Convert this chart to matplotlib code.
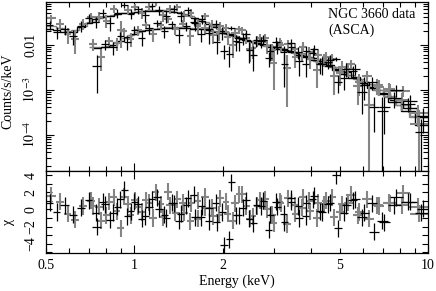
import numpy as np
import matplotlib
matplotlib.use('Agg')
import matplotlib.pyplot as plt
from matplotlib.ticker import FixedLocator, FixedFormatter, NullFormatter

plt.rcParams['font.family'] = ['Liberation Serif', 'DejaVu Serif']
plt.rcParams['mathtext.fontset'] = 'stix'
plt.rcParams['font.size'] = 10

# ---------------- data ----------------
# SIS0 (black, upper group)
edges_a = [0.5, 0.53, 0.56, 0.6, 0.64, 0.68, 0.72, 0.76, 0.8, 0.85, 0.9, 0.95, 1.0,
           1.06, 1.12, 1.18, 1.25, 1.32, 1.4, 1.48, 1.56, 1.65, 1.74, 1.84, 1.94,
           2.05, 2.16, 2.28, 2.4, 2.53, 2.67, 2.82, 2.98, 3.15, 3.33, 3.52, 3.72,
           3.94, 4.17, 4.42, 4.7, 5.0, 5.35, 5.75, 6.2, 6.7, 7.3, 8.1, 9.0, 10.0]
model_a = [0.022, 0.021, 0.019, 0.019, 0.025, 0.030, 0.036, 0.041, 0.044, 0.047,
           0.049, 0.051, 0.053, 0.055, 0.056, 0.056, 0.055, 0.053, 0.049, 0.045,
           0.039, 0.033, 0.028, 0.024, 0.020, 0.017, 0.0148, 0.0130, 0.0117, 0.0106,
           0.0097, 0.0089, 0.0081, 0.0074, 0.0067, 0.0060, 0.0053, 0.0046, 0.0039,
           0.0033, 0.0027, 0.0022, 0.0018, 0.0014, 0.0011, 0.00080, 0.00052,
           0.00033, 0.00016]
chi_a = [0.8, -0.3, 0.5, -0.6, 0.2, 1.1, -0.4, 0.9, -1.2, 0.3, 2.3, -0.2, 0.6, -0.8,
         1.2, 0.1, -1.0, 0.7, -0.5, 1.3, -0.9, 0.4, -1.4, 0.8, -0.3, -3.5, -0.7, 0.2,
         -1.1, 0.5, 1.0, -0.6, 0.3, -1.5, 0.9, 0.4, -0.8, 1.2, -0.2, 0.6, 4.0, -0.4,
         1.1, -0.9, 0.7, -1.3, 0.5, 0.9, -0.4]
rel_a = [0.28, 0.28, 0.3, 0.3, 0.28, 0.27, 0.26, 0.26, 0.25, 0.25, 0.24, 0.24,
         0.24, 0.24, 0.23, 0.23, 0.23, 0.23, 0.24, 0.24, 0.25, 0.25, 0.26, 0.27,
         0.28, 0.18, 0.3, 0.31, 0.32, 0.32, 0.33, 0.33, 0.34, 0.34, 0.35, 0.35,
         0.36, 0.36, 0.37, 0.38, 0.2, 0.4, 0.41, 0.42, 0.44, 0.45, 0.48, 0.52, 0.7]

# SIS1 (grey, upper group)
edges_b = [0.5, 0.54, 0.575, 0.61, 0.65, 0.69, 0.735, 0.78, 0.825, 0.875, 0.925,
           0.975, 1.03, 1.09, 1.15, 1.215, 1.285, 1.36, 1.44, 1.52, 1.6, 1.69, 1.79,
           1.89, 2.0, 2.1, 2.22, 2.34, 2.47, 2.6, 2.75, 2.9, 3.07, 3.24, 3.43, 3.62,
           3.83, 4.05, 4.3, 4.56, 4.85, 5.17, 5.55, 5.97, 6.45, 7.0, 7.7, 8.6, 10.0]
model_b = [0.026, 0.023, 0.020, 0.021, 0.026, 0.032, 0.038, 0.042, 0.046, 0.049,
           0.051, 0.053, 0.055, 0.057, 0.058, 0.057, 0.055, 0.052, 0.048, 0.043,
           0.037, 0.031, 0.026, 0.022, 0.0185, 0.0160, 0.0140, 0.0124, 0.0112,
           0.0102, 0.0094, 0.0086, 0.0078, 0.0071, 0.0064, 0.0057, 0.0050, 0.0044,
           0.0037, 0.0031, 0.0026, 0.0021, 0.0017, 0.0013, 0.00100, 0.00072,
           0.00046, 0.00025]
chi_b = [1.6, 0.9, -0.5, -1.2, 0.4, 1.0, 0.3, -0.7, 1.4, -2.2, 0.6, 1.1, -0.3, 0.8,
         2.0, -0.9, 0.5, 1.2, -0.4, 0.7, -1.1, 1.5, 0.2, -0.6, 0.9, -1.3, 1.8, 0.4,
         -0.8, 1.1, 0.0, -1.6, 0.7, 1.3, -0.5, 0.2, 1.0, -1.0, 0.6, 1.4, -0.3, 0.8,
         -0.7, 1.2, 0.5, 0.8, 0.5, 0.3]
rel_b = [0.3, 0.3, 0.32, 0.32, 0.3, 0.29, 0.28, 0.27, 0.26, 0.26, 0.25, 0.25, 0.25,
         0.24, 0.24, 0.24, 0.24, 0.24, 0.25, 0.25, 0.26, 0.26, 0.27, 0.28, 0.29, 0.3,
         0.31, 0.32, 0.32, 0.33, 0.33, 0.34, 0.35, 0.35, 0.36, 0.37, 0.37, 0.38, 0.39,
         0.4, 0.41, 0.42, 0.43, 0.45, 0.47, 0.5, 0.54, 0.6]

# GIS2 (black, lower group)
edges_c = [0.72, 0.77, 0.82, 0.87, 0.92, 0.97, 1.03, 1.09, 1.16, 1.23, 1.3, 1.38,
           1.46, 1.55, 1.64, 1.74, 1.85, 1.96, 2.08, 2.2, 2.33, 2.47, 2.62, 2.78,
           2.95, 3.13, 3.32, 3.52, 3.74, 3.97, 4.22, 4.49, 4.78, 5.1, 5.45, 5.85,
           6.3, 6.8, 7.4, 8.2, 9.2, 10.0]
model_c = [0.0085, 0.0086, 0.0098, 0.0118, 0.0145, 0.0172, 0.0195, 0.0212, 0.0224,
           0.0232, 0.0236, 0.0236, 0.0232, 0.0226, 0.0218, 0.0207, 0.0193, 0.0178,
           0.0160, 0.0142, 0.0127, 0.0115, 0.0105, 0.0097, 0.0089, 0.0081, 0.0073,
           0.0065, 0.0057, 0.0049, 0.0042, 0.0035, 0.0029, 0.0024, 0.0019, 0.0015,
           0.00115, 0.00084, 0.00058, 0.00038, 0.00024]
chi_c = [-2.0, 0.6, -0.4, 1.2, -0.8, 0.9, -1.1, 0.3, 1.4, -0.6, 0.8, -1.3, 0.5, 1.7,
         -0.9, 0.2, -1.5, -4.2, 3.2, -0.7, 1.1, -1.6, 0.4, -2.4, 0.9, -0.5, 1.3, -1.0,
         0.7, 1.6, -0.3, 0.8, -2.2, 0.5, 1.2, -0.4, -2.6, -1.5, 1.4, 0.9, 0.1]
rel_c = [0.3, 0.3, 0.29, 0.28, 0.27, 0.26, 0.25, 0.25, 0.24, 0.24, 0.24, 0.24, 0.24,
         0.25, 0.25, 0.26, 0.27, 0.14, 0.15, 0.29, 0.3, 0.3, 0.31, 0.2, 0.33, 0.34,
         0.35, 0.35, 0.36, 0.37, 0.38, 0.39, 0.22, 0.41, 0.42, 0.44, 0.25, 0.35, 0.48,
         0.52, 0.6]

# GIS3 (grey, lower group)
edges_d = [0.7, 0.745, 0.795, 0.845, 0.895, 0.945, 1.0, 1.06, 1.125, 1.195, 1.265,
           1.34, 1.42, 1.505, 1.595, 1.69, 1.795, 1.905, 2.02, 2.14, 2.27, 2.4,
           2.545, 2.7, 2.865, 3.04, 3.22, 3.42, 3.63, 3.855, 4.095, 4.355, 4.635,
           4.94, 5.27, 5.64, 6.05, 6.55, 7.1, 7.8, 8.7, 10.0]
model_d = [0.0090, 0.0088, 0.0094, 0.0112, 0.0138, 0.0166, 0.0192, 0.0212, 0.0226,
           0.0236, 0.0242, 0.0244, 0.0242, 0.0236, 0.0228, 0.0218, 0.0204, 0.0188,
           0.0170, 0.0151, 0.0134, 0.0120, 0.0109, 0.0100, 0.0092, 0.0084, 0.0076,
           0.0068, 0.0060, 0.0052, 0.0045, 0.0038, 0.0032, 0.0026, 0.0021, 0.0017,
           0.0013, 0.00098, 0.00070, 0.00046, 0.00026]
chi_d = [0.4, -1.3, 0.9, -0.2, 1.5, -0.7, 0.3, 1.1, -1.0, 0.6, 2.1, -0.4, 0.8, -1.4,
         1.0, 0.2, -0.8, 1.3, -0.5, 0.7, 1.8, -1.1, 0.4, 1.2, -0.6, 0.9, -1.7, 0.5,
         1.4, -0.2, 0.8, 1.0, -0.9, 0.6, 1.7, -0.3, -1.1, 0.4, 0.7, 1.9, -0.5]
rel_d = [0.32, 0.31, 0.3, 0.29, 0.28, 0.27, 0.26, 0.25, 0.25, 0.25, 0.24, 0.24, 0.24,
         0.25, 0.25, 0.26, 0.27, 0.28, 0.29, 0.3, 0.3, 0.31, 0.31, 0.32, 0.33, 0.34,
         0.35, 0.35, 0.36, 0.37, 0.38, 0.39, 0.4, 0.41, 0.42, 0.44, 0.6, 0.47, 0.5,
         0.55, 0.65]

x_ticks = [0.5, 1, 2, 5, 10]
x_labels = ['0.5', '1', '2', '5', '10']
y_ticks = [1e-4, 1e-3, 1e-2]
y_labels = ['$10^{-4}$', '$10^{-3}$', '0.01']
chi_ticks = [-4, -2, 0, 2, 4]
chi_labels = ['\u22124', '\u22122', '0', '2', '4']

GREY = '#858585'
BLACK = '#000000'

# ---------------- figure ----------------
W, H = 436, 291
fig = plt.figure(figsize=(W / 100, H / 100), dpi=100)
ax1 = fig.add_axes([46 / W, 1 - 171 / H, 382 / W, 169 / H])
ax2 = fig.add_axes([46 / W, 1 - 253 / H, 382 / W, 82 / H])

series = [
    (edges_b, model_b, chi_b, rel_b, GREY, 1.5),
    (edges_d, model_d, chi_d, rel_d, GREY, 1.5),
    (edges_a, model_a, chi_a, rel_a, BLACK, 0.9),
    (edges_c, model_c, chi_c, rel_c, BLACK, 0.9),
]

for edges, model, chi, rel, col, lw in series:
    e = np.asarray(edges, float)
    m = np.asarray(model, float)
    c = np.asarray(chi, float)
    r = np.asarray(rel, float)
    lo, hi = e[:-1], e[1:]
    cen = np.sqrt(lo * hi)
    data = m * (1 + c * r)
    err = m * r
    lower = np.minimum(err, data * 0.9999)
    ax1.errorbar(cen, data, xerr=[cen - lo, hi - cen], yerr=[lower, err],
                 fmt='none', ecolor=col, elinewidth=lw, capsize=0)
    ax1.stairs(m, e, color=col, lw=1.0, baseline=None)
    ax2.errorbar(cen, c, xerr=[cen - lo, hi - cen], yerr=1.0,
                 fmt='none', ecolor=col, elinewidth=lw, capsize=0)

for ax in (ax1, ax2):
    ax.set_xscale('log')
    ax.set_xlim(0.5, 10)
    ax.xaxis.set_major_locator(FixedLocator([1, 10]))
    ax.xaxis.set_minor_locator(FixedLocator([0.5, 0.6, 0.7, 0.8, 0.9, 2, 3, 4, 5, 6, 7, 8, 9]))
    ax.tick_params(which='both', direction='in', top=True, right=True, width=0.8)
    ax.tick_params(which='major', length=6)
    ax.tick_params(which='minor', length=3.5)
    for s in ax.spines.values():
        s.set_linewidth(0.9)

ax1.set_yscale('log')
ax1.set_ylim(1.55e-5, 0.088)
ax1.yaxis.set_major_locator(FixedLocator(y_ticks))
ax1.yaxis.set_major_formatter(FixedFormatter(y_labels))
ax1.xaxis.set_major_formatter(NullFormatter())
ax1.xaxis.set_minor_formatter(NullFormatter())
ax1.tick_params(axis='y', which='major', pad=6)
for t in ax1.get_yticklabels():
    t.set_rotation(90)
    t.set_va('center')

ax2.set_ylim(-5.1, 4.5)
ax2.yaxis.set_major_locator(FixedLocator(chi_ticks))
ax2.yaxis.set_major_formatter(FixedFormatter(chi_labels))
ax2.yaxis.set_minor_locator(FixedLocator([-5, -3, -1, 1, 3]))
ax2.tick_params(axis='y', which='major', pad=6, length=4)
ax2.tick_params(axis='y', which='minor', length=4)
for t in ax2.get_yticklabels():
    t.set_rotation(90)
    t.set_va('center')

# x labels at 0.5,1,2,5,10
ax2.xaxis.set_major_formatter(FixedFormatter(['1', '10']))
ax2.xaxis.set_minor_formatter(FixedFormatter(['0.5', '', '', '', '', '2', '', '', '5', '', '', '', '']))
ax2.tick_params(axis='x', which='both', pad=4, labelsize=10)

fig.text(237 / W, 1 - 281 / H, 'Energy (keV)', ha='center', va='center')
fig.text(8 / W, 1 - 91 / H, 'Counts/s/keV', ha='center', va='center', rotation=90)
fig.text(8 / W, 1 - 222 / H, '\u03c7', ha='center', va='center', rotation=90)
ax1.text(328 / W, 1 - 8 / H, 'NGC 3660 data\n(ASCA)', transform=fig.transFigure,
         ha='left', va='top', linespacing=1.25, fontsize=10)

fig.savefig('out.png', dpi=100)
